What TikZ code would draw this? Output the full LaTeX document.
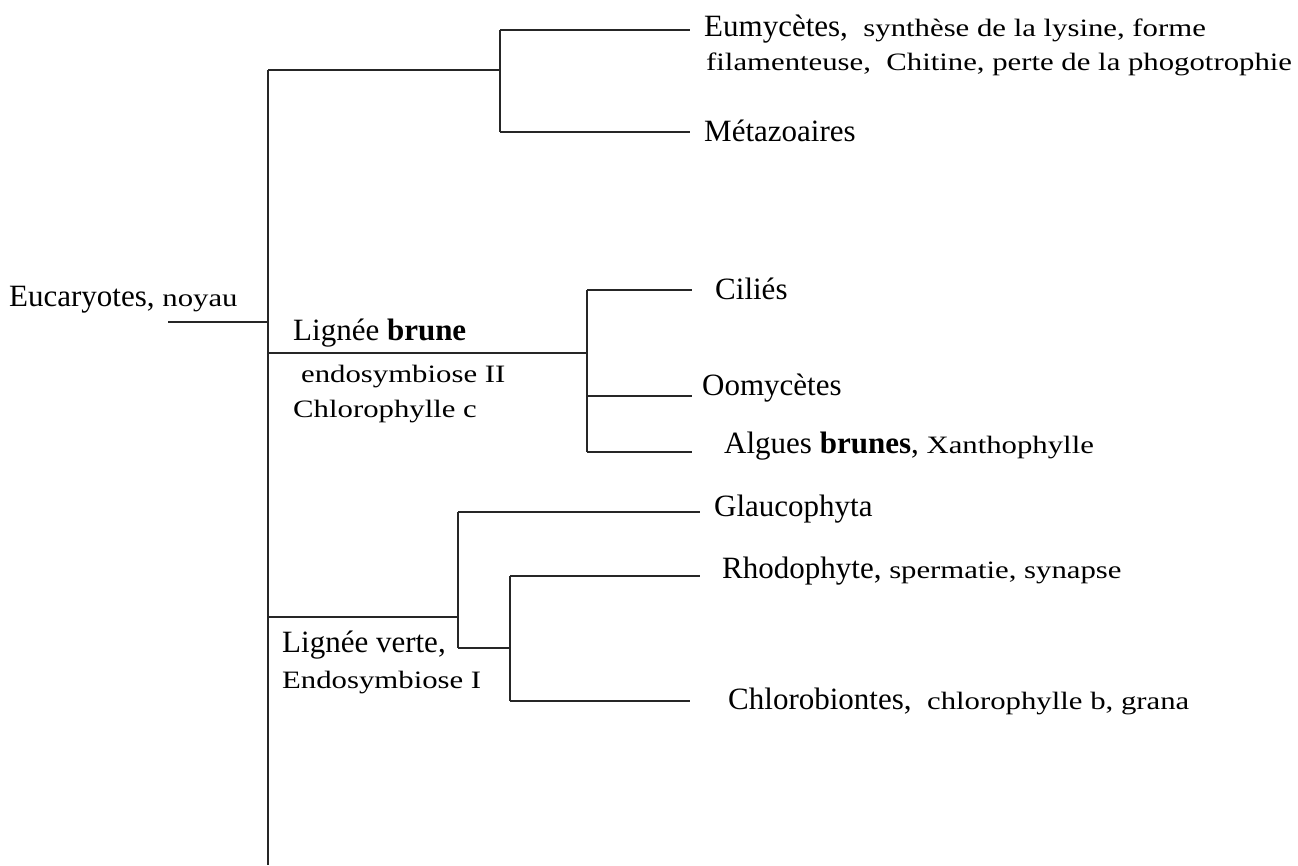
\documentclass[tikz,border=0pt]{standalone}
\usepackage{fontspec}
\setmainfont{Liberation Serif}
\newfontfamily\smallserif[FakeStretch=1.23]{Liberation Serif}
\newcommand{\bigtxt}{\fontsize{31}{35}\selectfont}
\newcommand{\smtxt}{\smallserif\fontsize{25}{29}\selectfont}
\begin{document}
\begin{tikzpicture}[x=1pt,y=-1pt,
  br/.style={line width=2.2pt,draw=black!85},
  lbl/.style={anchor=west,inner sep=0pt,font=\bigtxt}]
\useasboundingbox (0,0) rectangle (1298,865);
% branch coordinates
\coordinate (root) at (168,322);
\coordinate (mtop) at (268,70);
\coordinate (mbot) at (268,865);
\coordinate (mroot) at (268,322);
\coordinate (fa) at (500,70);
\coordinate (fa1) at (500,30);
\coordinate (fa2) at (500,132);
\coordinate (t1) at (690,30);
\coordinate (t2) at (690,132);
\coordinate (mb) at (268,353);
\coordinate (ba) at (587,353);
\coordinate (ba1) at (587,290);
\coordinate (ba2) at (587,396);
\coordinate (ba3) at (587,452);
\coordinate (t3) at (692,290);
\coordinate (t4) at (692,396);
\coordinate (t5) at (692,452);
\coordinate (mv) at (268,617);
\coordinate (va) at (458,617);
\coordinate (va1) at (458,512);
\coordinate (va2) at (458,648);
\coordinate (vb) at (510,648);
\coordinate (vb1) at (510,576);
\coordinate (vb2) at (510,701);
\coordinate (t6) at (700,512);
\coordinate (t7) at (700,576);
\coordinate (t8) at (690,701);
% lines
\draw[br] (root) -- (mroot);
\draw[br] (mtop) -- (mbot);
\draw[br] (mtop) -- (fa);
\draw[br] (fa1) -- (fa2);
\draw[br] (fa1) -- (t1);
\draw[br] (fa2) -- (t2);
\draw[br] (mb) -- (ba);
\draw[br] (ba1) -- (ba3);
\draw[br] (ba1) -- (t3);
\draw[br] (ba2) -- (t4);
\draw[br] (ba3) -- (t5);
\draw[br] (mv) -- (va);
\draw[br] (va1) -- (va2);
\draw[br] (va1) -- (t6);
\draw[br] (va2) -- (vb);
\draw[br] (vb1) -- (vb2);
\draw[br] (vb1) -- (t7);
\draw[br] (vb2) -- (t8);
% labels
\node[lbl] (eucar) at (9,300) {Eucaryotes, {\smtxt noyau}};
\node[lbl] (eumy) at (704,29) {Eumycètes,\ \ {\smtxt synthèse de la lysine, forme}};
\node[lbl,font=\smtxt] (eumy2) at (706,64) {filamenteuse,\ \ Chitine, perte de la phogotrophie};
\node[lbl] (meta) at (704,131) {Métazoaires};
\node[lbl] (brune) at (293,333) {Lignée \textbf{brune}};
\node[lbl,font=\smtxt] (endoII) at (301,377) {endosymbiose II};
\node[lbl,font=\smtxt] (chlc) at (293,412) {Chlorophylle c};
\node[lbl] (cilies) at (715,289) {Ciliés};
\node[lbl] (oomy) at (702,388) {Oomycètes};
\node[lbl] (algues) at (724,446) {Algues \textbf{brunes}, {\smtxt Xanthophylle}};
\node[lbl] (glauco) at (714,509) {Glaucophyta};
\node[lbl] (rhodo) at (722,571) {Rhodophyte, {\smtxt spermatie, synapse}};
\node[lbl] (verte) at (282,645) {Lignée verte,};
\node[lbl,font=\smtxt] (endoI) at (282,683) {Endosymbiose I};
\node[lbl] (chloro) at (728,701) {Chlorobiontes,\ \ {\smtxt chlorophylle b, grana}};
\end{tikzpicture}
\end{document}
